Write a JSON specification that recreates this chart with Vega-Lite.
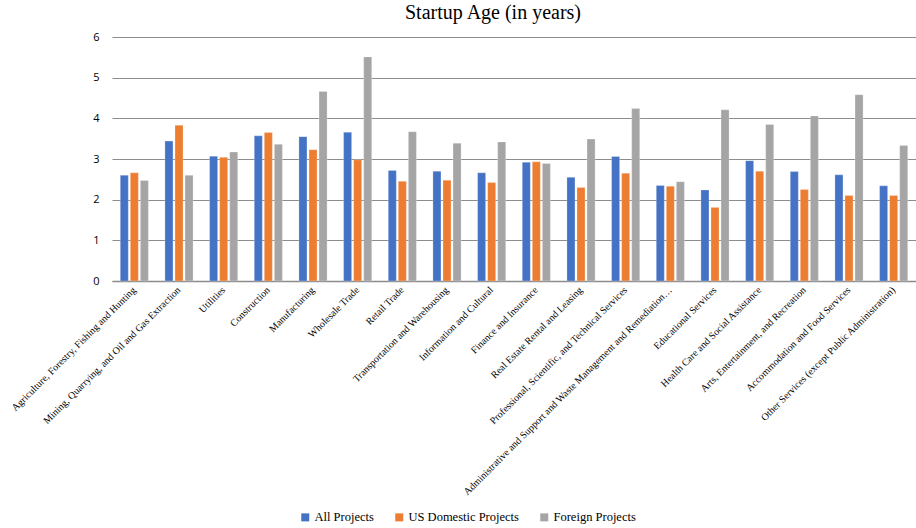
{
  "$schema": "https://vega.github.io/schema/vega-lite/v6.json",
  "width": 804,
  "height": 244,
  "autosize": {"type": "none"},
  "padding": {"left": 112, "top": 37, "right": 0, "bottom": 247},
  "background": "white",
  "title": {
    "text": "Startup Age (in years)",
    "font": "Liberation Serif",
    "fontSize": 20,
    "fontWeight": "normal",
    "color": "#000000",
    "offset": 8,
    "dx": -21
  },
  "config": {
    "view": {"stroke": null},
    "font": "Liberation Serif"
  },
  "data": {
    "values": [
      {"industry": "Agriculture, Forestry, Fishing and Hunting", "series": "All Projects", "value": 2.60},
      {"industry": "Agriculture, Forestry, Fishing and Hunting", "series": "US Domestic Projects", "value": 2.66},
      {"industry": "Agriculture, Forestry, Fishing and Hunting", "series": "Foreign Projects", "value": 2.47},
      {"industry": "Mining, Quarrying, and Oil and Gas Extraction", "series": "All Projects", "value": 3.44},
      {"industry": "Mining, Quarrying, and Oil and Gas Extraction", "series": "US Domestic Projects", "value": 3.83},
      {"industry": "Mining, Quarrying, and Oil and Gas Extraction", "series": "Foreign Projects", "value": 2.60},
      {"industry": "Utilities", "series": "All Projects", "value": 3.07},
      {"industry": "Utilities", "series": "US Domestic Projects", "value": 3.04},
      {"industry": "Utilities", "series": "Foreign Projects", "value": 3.17},
      {"industry": "Construction", "series": "All Projects", "value": 3.57},
      {"industry": "Construction", "series": "US Domestic Projects", "value": 3.65},
      {"industry": "Construction", "series": "Foreign Projects", "value": 3.36},
      {"industry": "Manufacturing", "series": "All Projects", "value": 3.55},
      {"industry": "Manufacturing", "series": "US Domestic Projects", "value": 3.23},
      {"industry": "Manufacturing", "series": "Foreign Projects", "value": 4.66},
      {"industry": "Wholesale Trade", "series": "All Projects", "value": 3.66},
      {"industry": "Wholesale Trade", "series": "US Domestic Projects", "value": 2.98},
      {"industry": "Wholesale Trade", "series": "Foreign Projects", "value": 5.51},
      {"industry": "Retail Trade", "series": "All Projects", "value": 2.72},
      {"industry": "Retail Trade", "series": "US Domestic Projects", "value": 2.45},
      {"industry": "Retail Trade", "series": "Foreign Projects", "value": 3.67},
      {"industry": "Transportation and Warehousing", "series": "All Projects", "value": 2.70},
      {"industry": "Transportation and Warehousing", "series": "US Domestic Projects", "value": 2.48},
      {"industry": "Transportation and Warehousing", "series": "Foreign Projects", "value": 3.39},
      {"industry": "Information and Cultural", "series": "All Projects", "value": 2.66},
      {"industry": "Information and Cultural", "series": "US Domestic Projects", "value": 2.42},
      {"industry": "Information and Cultural", "series": "Foreign Projects", "value": 3.42},
      {"industry": "Finance and Insurance", "series": "All Projects", "value": 2.92},
      {"industry": "Finance and Insurance", "series": "US Domestic Projects", "value": 2.93},
      {"industry": "Finance and Insurance", "series": "Foreign Projects", "value": 2.89},
      {"industry": "Real Estate Rental and Leasing", "series": "All Projects", "value": 2.55},
      {"industry": "Real Estate Rental and Leasing", "series": "US Domestic Projects", "value": 2.30},
      {"industry": "Real Estate Rental and Leasing", "series": "Foreign Projects", "value": 3.49},
      {"industry": "Professional, Scientific, and Technical Services", "series": "All Projects", "value": 3.06},
      {"industry": "Professional, Scientific, and Technical Services", "series": "US Domestic Projects", "value": 2.65},
      {"industry": "Professional, Scientific, and Technical Services", "series": "Foreign Projects", "value": 4.24},
      {"industry": "Administrative and Support and Waste Management and Remediation Services", "series": "All Projects", "value": 2.35},
      {"industry": "Administrative and Support and Waste Management and Remediation Services", "series": "US Domestic Projects", "value": 2.33},
      {"industry": "Administrative and Support and Waste Management and Remediation Services", "series": "Foreign Projects", "value": 2.44},
      {"industry": "Educational Services", "series": "All Projects", "value": 2.24},
      {"industry": "Educational Services", "series": "US Domestic Projects", "value": 1.81},
      {"industry": "Educational Services", "series": "Foreign Projects", "value": 4.21},
      {"industry": "Health Care and Social Assistance", "series": "All Projects", "value": 2.96},
      {"industry": "Health Care and Social Assistance", "series": "US Domestic Projects", "value": 2.70},
      {"industry": "Health Care and Social Assistance", "series": "Foreign Projects", "value": 3.85},
      {"industry": "Arts, Entertainment, and Recreation", "series": "All Projects", "value": 2.69},
      {"industry": "Arts, Entertainment, and Recreation", "series": "US Domestic Projects", "value": 2.25},
      {"industry": "Arts, Entertainment, and Recreation", "series": "Foreign Projects", "value": 4.06},
      {"industry": "Accommodation and Food Services", "series": "All Projects", "value": 2.61},
      {"industry": "Accommodation and Food Services", "series": "US Domestic Projects", "value": 2.10},
      {"industry": "Accommodation and Food Services", "series": "Foreign Projects", "value": 4.58},
      {"industry": "Other Services (except Public Administration)", "series": "All Projects", "value": 2.34},
      {"industry": "Other Services (except Public Administration)", "series": "US Domestic Projects", "value": 2.10},
      {"industry": "Other Services (except Public Administration)", "series": "Foreign Projects", "value": 3.33}
    ]
  },
  "mark": {"type": "bar", "stroke": "white", "strokeOpacity": 0.5, "strokeWidth": 0.5},
  "encoding": {
    "x": {
      "field": "industry",
      "type": "nominal",
      "sort": null,
      "scale": {"paddingInner": 0.37, "paddingOuter": 0.185},
      "axis": {
        "title": null,
        "labelAngle": -45,
        "labelAlign": "right",
        "labelBaseline": "middle",
        "labelFont": "Liberation Serif",
        "labelFontSize": 10,
        "labelColor": "#000000",
        "labelLimit": 290,
        "labelPadding": 7,
        "ticks": false,
        "domainColor": "#8c8c8c",
        "domainWidth": 1.6
      }
    },
    "xOffset": {
      "field": "series",
      "type": "nominal",
      "sort": ["All Projects", "US Domestic Projects", "Foreign Projects"],
      "scale": {"paddingInner": 0.2, "paddingOuter": 0}
    },
    "y": {
      "field": "value",
      "type": "quantitative",
      "scale": {"domain": [0, 6]},
      "axis": {
        "title": null,
        "values": [0, 1, 2, 3, 4, 5, 6],
        "format": "d",
        "domain": false,
        "ticks": false,
        "labelFont": "Open Sans",
        "labelFontSize": 11,
        "labelColor": "#000000",
        "labelPadding": 13,
        "gridColor": "#8c8c8c",
        "gridWidth": 1.2
      }
    },
    "color": {
      "field": "series",
      "type": "nominal",
      "sort": ["All Projects", "US Domestic Projects", "Foreign Projects"],
      "scale": {
        "domain": ["All Projects", "US Domestic Projects", "Foreign Projects"],
        "range": ["#4472C4", "#ED7D31", "#A5A5A5"]
      },
      "legend": {
        "title": null,
        "orient": "none",
        "direction": "horizontal",
        "legendX": 187,
        "legendY": 474,
        "symbolType": "square",
        "symbolSize": 64,
        "symbolStrokeWidth": 0,
        "labelFont": "Liberation Serif",
        "labelFontSize": 12.5,
        "labelColor": "#000000",
        "labelOffset": 3,
        "columnPadding": 19
      }
    }
  }
}
